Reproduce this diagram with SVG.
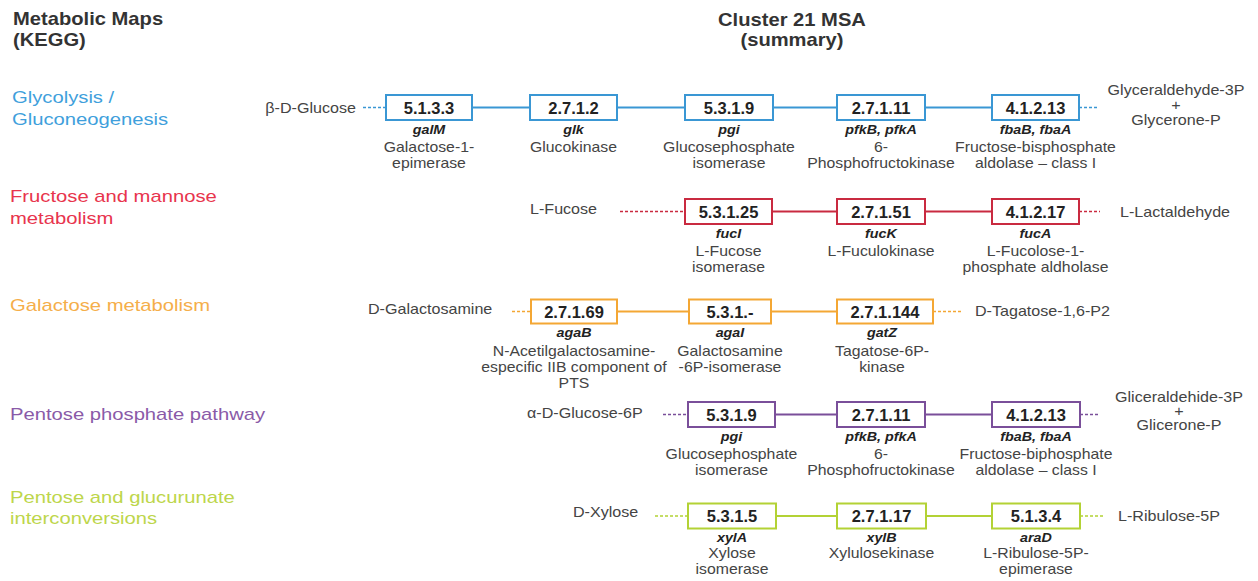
<svg xmlns="http://www.w3.org/2000/svg" width="1258" height="581" viewBox="0 0 1258 581">
<style>
text { font-family: "Liberation Sans", Arial, sans-serif; transform-box: fill-box; }
.hd { font-size: 18px; font-weight: bold; fill: #333; transform: scaleX(1.12); }
.hdl { transform-origin: left center; }
.hdc { text-anchor: middle; transform-origin: center; }
.pt { font-size: 17px; transform: scaleX(1.19); transform-origin: left center; }
.ec { font-size: 16.5px; font-weight: bold; fill: #222; text-anchor: middle; }
.gn { font-size: 13px; font-weight: bold; font-style: italic; fill: #222; text-anchor: middle; transform: scaleX(1.1); transform-origin: center; }
.ds { font-size: 14px; fill: #444; text-anchor: middle; transform: scaleX(1.13); transform-origin: center; }
.lb { font-size: 14px; fill: #444; transform: scaleX(1.15); }
.ls { transform-origin: left center; }
.le { text-anchor: end; transform-origin: right center; }
.lm { text-anchor: middle; transform-origin: center; }
rect.box { fill: #fff; stroke-width: 2; }
.sol { stroke-width: 2; fill: none; }
.dsh { stroke-width: 1.3; fill: none; stroke-dasharray: 3 2; }
.blue { stroke: #3a97d4; } .red { stroke: #c92a40; } .org { stroke: #f4a734; } .pur { stroke: #7a4f9a; } .grn { stroke: #b3d235; }
</style>

<g id="headers">
<text class="hd hdl" x="13" y="25">Metabolic Maps</text>
<text class="hd hdl" x="13" y="46">(KEGG)</text>
<text class="hd hdc" x="792" y="26">Cluster 21 MSA</text>
<text class="hd hdc" x="792" y="46">(summary)</text>
</g>

<g id="pathway-titles">
<text class="pt" x="12" y="103" fill="#3f9fdc">Glycolysis /</text>
<text class="pt" x="12" y="125" fill="#3f9fdc">Gluconeogenesis</text>
<text class="pt" x="10" y="202" fill="#e8344d">Fructose and mannose</text>
<text class="pt" x="10" y="224" fill="#e8344d">metabolism</text>
<text class="pt" x="10" y="311" fill="#f5ae4a">Galactose metabolism</text>
<text class="pt" x="10" y="420" fill="#8a5aa8">Pentose phosphate pathway</text>
<text class="pt" x="10" y="503" fill="#bdd64b">Pentose and glucurunate</text>
<text class="pt" x="10" y="524" fill="#bdd64b">interconversions</text>
</g>

<g id="connectors">
<line class="dsh blue" x1="363" y1="107.5" x2="386" y2="107.5"/>
<line class="sol blue" x1="472" y1="107.5" x2="530" y2="107.5"/>
<line class="sol blue" x1="617" y1="107.5" x2="685" y2="107.5"/>
<line class="sol blue" x1="773" y1="107.5" x2="837" y2="107.5"/>
<line class="sol blue" x1="925" y1="107.5" x2="992" y2="107.5"/>
<line class="dsh blue" x1="1079" y1="107.5" x2="1098" y2="107.5"/>

<line class="dsh red" x1="620" y1="211.5" x2="685" y2="211.5"/>
<line class="sol red" x1="772" y1="211.5" x2="837" y2="211.5"/>
<line class="sol red" x1="925" y1="211.5" x2="992" y2="211.5"/>
<line class="dsh red" x1="1079" y1="211.5" x2="1100" y2="211.5"/>

<line class="dsh org" x1="512" y1="311.5" x2="531" y2="311.5"/>
<line class="sol org" x1="617" y1="311.5" x2="689" y2="311.5"/>
<line class="sol org" x1="771" y1="311.5" x2="837" y2="311.5"/>
<line class="dsh org" x1="933" y1="311.5" x2="962" y2="311.5"/>

<line class="dsh pur" x1="663" y1="414.5" x2="688" y2="414.5"/>
<line class="sol pur" x1="775" y1="414.5" x2="837" y2="414.5"/>
<line class="sol pur" x1="925" y1="414.5" x2="992" y2="414.5"/>
<line class="dsh pur" x1="1080" y1="414.5" x2="1100" y2="414.5"/>

<line class="dsh grn" x1="655" y1="516" x2="688" y2="516"/>
<line class="sol grn" x1="776" y1="516" x2="837" y2="516"/>
<line class="sol grn" x1="926" y1="516" x2="992" y2="516"/>
<line class="dsh grn" x1="1080" y1="516" x2="1103" y2="516"/>
</g>

<g id="metabolites">
<text class="lb le" x="356" y="113">β-D-Glucose</text>
<text class="lb lm" x="1176" y="95">Glyceraldehyde-3P</text>
<text class="lb lm" x="1176" y="110">+</text>
<text class="lb lm" x="1176" y="125">Glycerone-P</text>
<text class="lb ls" x="530" y="214">L-Fucose</text>
<text class="lb ls" x="1120" y="217">L-Lactaldehyde</text>
<text class="lb ls" x="368" y="314">D-Galactosamine</text>
<text class="lb ls" x="975" y="316">D-Tagatose-1,6-P2</text>
<text class="lb ls" x="527" y="418">α-D-Glucose-6P</text>
<text class="lb lm" x="1179" y="402">Gliceraldehide-3P</text>
<text class="lb lm" x="1179" y="416">+</text>
<text class="lb lm" x="1179" y="430">Glicerone-P</text>
<text class="lb ls" x="573" y="517">D-Xylose</text>
<text class="lb ls" x="1118" y="521">L-Ribulose-5P</text>
</g>

<!-- Row 1: Glycolysis -->
<g id="r1-5.1.3.3"><rect class="box blue" x="386" y="95" width="86" height="25"/><text class="ec" x="429" y="113.5">5.1.3.3</text><text class="gn" x="429" y="134">galM</text><text class="ds" x="429" y="152.5">Galactose-1-</text><text class="ds" x="429" y="168.5">epimerase</text></g>
<g id="r1-2.7.1.2"><rect class="box blue" x="530" y="95" width="87" height="25"/><text class="ec" x="573.5" y="113.5">2.7.1.2</text><text class="gn" x="573.5" y="134">glk</text><text class="ds" x="573.5" y="152.5">Glucokinase</text></g>
<g id="r1-5.3.1.9"><rect class="box blue" x="685" y="95" width="88" height="25"/><text class="ec" x="729" y="113.5">5.3.1.9</text><text class="gn" x="729" y="134">pgi</text><text class="ds" x="729" y="152.5">Glucosephosphate</text><text class="ds" x="729" y="168.5">isomerase</text></g>
<g id="r1-2.7.1.11"><rect class="box blue" x="837" y="95" width="88" height="25"/><text class="ec" x="881" y="113.5">2.7.1.11</text><text class="gn" x="881" y="134">pfkB, pfkA</text><text class="ds" x="881" y="152.5">6-</text><text class="ds" x="881" y="168.5">Phosphofructokinase</text></g>
<g id="r1-4.1.2.13"><rect class="box blue" x="992" y="95" width="87" height="25"/><text class="ec" x="1035.5" y="113.5">4.1.2.13</text><text class="gn" x="1035.5" y="134">fbaB, fbaA</text><text class="ds" x="1035.5" y="152.5">Fructose-bisphosphate</text><text class="ds" x="1035.5" y="168.5">aldolase – class I</text></g>

<!-- Row 2: Fructose and mannose -->
<g id="r2-5.3.1.25"><rect class="box red" x="685" y="199" width="87" height="25"/><text class="ec" x="728.5" y="217.5">5.3.1.25</text><text class="gn" x="728.5" y="238">fucI</text><text class="ds" x="728.5" y="256.5">L-Fucose</text><text class="ds" x="728.5" y="272.5">isomerase</text></g>
<g id="r2-2.7.1.51"><rect class="box red" x="837" y="199" width="88" height="25"/><text class="ec" x="881" y="217.5">2.7.1.51</text><text class="gn" x="881" y="238">fucK</text><text class="ds" x="881" y="256.5">L-Fuculokinase</text></g>
<g id="r2-4.1.2.17"><rect class="box red" x="992" y="199" width="87" height="25"/><text class="ec" x="1035.5" y="217.5">4.1.2.17</text><text class="gn" x="1035.5" y="238">fucA</text><text class="ds" x="1035.5" y="256.5">L-Fucolose-1-</text><text class="ds" x="1035.5" y="272.5">phosphate aldholase</text></g>

<!-- Row 3: Galactose -->
<g id="r3-2.7.1.69"><rect class="box org" x="531" y="299.5" width="86" height="24"/><text class="ec" x="574" y="317.5">2.7.1.69</text><text class="gn" x="574" y="337.5">agaB</text><text class="ds" x="574" y="356.5">N-Acetilgalactosamine-</text><text class="ds" x="574" y="372.5">especific IIB component of</text><text class="ds" x="574" y="388.5">PTS</text></g>
<g id="r3-5.3.1.-"><rect class="box org" x="689" y="299.5" width="82" height="24"/><text class="ec" x="730" y="317.5">5.3.1.-</text><text class="gn" x="730" y="337.5">agaI</text><text class="ds" x="730" y="356.5">Galactosamine</text><text class="ds" x="730" y="372.5">-6P-isomerase</text></g>
<g id="r3-2.7.1.144"><rect class="box org" x="837" y="299.5" width="96" height="24"/><text class="ec" x="885" y="317.5">2.7.1.144</text><text class="gn" x="882" y="337.5">gatZ</text><text class="ds" x="882" y="356.5">Tagatose-6P-</text><text class="ds" x="882" y="372.5">kinase</text></g>

<!-- Row 4: Pentose phosphate -->
<g id="r4-5.3.1.9"><rect class="box pur" x="688" y="402" width="87" height="25"/><text class="ec" x="731.5" y="420.5">5.3.1.9</text><text class="gn" x="731.5" y="441">pgi</text><text class="ds" x="731.5" y="459.5">Glucosephosphate</text><text class="ds" x="731.5" y="475.5">isomerase</text></g>
<g id="r4-2.7.1.11"><rect class="box pur" x="837" y="402" width="88" height="25"/><text class="ec" x="881" y="420.5">2.7.1.11</text><text class="gn" x="881" y="441">pfkB, pfkA</text><text class="ds" x="881" y="459.5">6-</text><text class="ds" x="881" y="475.5">Phosphofructokinase</text></g>
<g id="r4-4.1.2.13"><rect class="box pur" x="992" y="402" width="88" height="25"/><text class="ec" x="1036" y="420.5">4.1.2.13</text><text class="gn" x="1036" y="441">fbaB, fbaA</text><text class="ds" x="1036" y="459.5">Fructose-biphosphate</text><text class="ds" x="1036" y="475.5">aldolase – class I</text></g>

<!-- Row 5: Pentose and glucuronate -->
<g id="r5-5.3.1.5"><rect class="box grn" x="688" y="503.5" width="88" height="25"/><text class="ec" x="732" y="522">5.3.1.5</text><text class="gn" x="732" y="542">xylA</text><text class="ds" x="732" y="558.5">Xylose</text><text class="ds" x="732" y="574.5">isomerase</text></g>
<g id="r5-2.7.1.17"><rect class="box grn" x="837" y="503.5" width="89" height="25"/><text class="ec" x="881.5" y="522">2.7.1.17</text><text class="gn" x="881.5" y="542">xylB</text><text class="ds" x="881.5" y="558.5">Xylulosekinase</text></g>
<g id="r5-5.1.3.4"><rect class="box grn" x="992" y="503.5" width="88" height="25"/><text class="ec" x="1036" y="522">5.1.3.4</text><text class="gn" x="1036" y="542">araD</text><text class="ds" x="1036" y="558.5">L-Ribulose-5P-</text><text class="ds" x="1036" y="574.5">epimerase</text></g>
</svg>
